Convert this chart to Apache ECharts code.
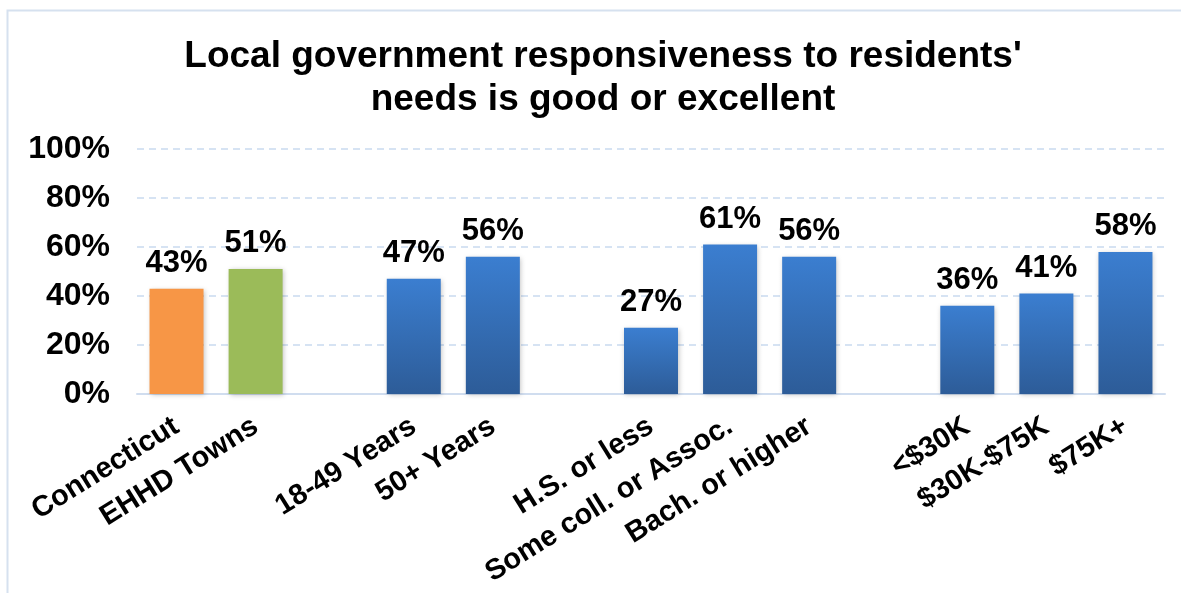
<!DOCTYPE html>
<html>
<head>
<meta charset="utf-8">
<script src="https://cdn.jsdelivr.net/npm/echarts@6/dist/echarts.min.js"></script>
<style>
html,body{margin:0;padding:0;background:#fff;}
#chart{width:1181px;height:593px;}
</style>
</head>
<body>
<div id="chart"></div>
<script>
// Data
var titleText = "Local government responsiveness to residents'\nneeds is good or excellent";
var categories = ['Connecticut', 'EHHD Towns', '', '18-49 Years', '50+ Years', '', 'H.S. or less', 'Some coll. or Assoc.', 'Bach. or higher', '', '<$30K', '$30K-$75K', '$75K+'];
var values = [43, 51, null, 47, 56, null, 27, 61, 56, null, 36, 41, 58];
var yTicks = [0, 20, 40, 60, 80, 100];

var chart = echarts.init(document.getElementById('chart'));
var blueGrad = new echarts.graphic.LinearGradient(0, 0, 0, 1, [
  {offset: 0, color: '#3b7ed0'},
  {offset: 1, color: '#2d5c98'}
]);
function barColor(i) {
  if (i === 0) return '#f79646';
  if (i === 1) return '#9bbb59';
  return blueGrad;
}
var seriesData = values.map(function (v, i) {
  return {value: v === null ? '-' : v, itemStyle: {color: barColor(i)}};
});

var font = 'Liberation Sans, Arial, sans-serif';
chart.setOption({
  animation: false,
  backgroundColor: '#ffffff',
  graphic: [{
    type: 'rect',
    shape: {x: 7.5, y: 10.5, width: 1200, height: 620},
    style: {fill: 'none', stroke: '#d6e1ef', lineWidth: 2},
    z: -1
  }],
  title: {
    text: titleText,
    left: 598,
    textAlign: 'center',
    top: 30,
    textStyle: {fontFamily: font, fontWeight: 'bold', fontSize: 37, lineHeight: 43, color: '#000'}
  },
  grid: {left: 137, right: 16, top: 149, bottom: 199, containLabel: false},
  xAxis: {
    type: 'category',
    data: categories,
    axisLine: {show: true, lineStyle: {color: '#d0ddef', width: 2}},
    axisTick: {show: false},
    axisLabel: {
      interval: 0,
      rotate: 32,
      margin: 30,
      fontFamily: font,
      fontWeight: 'bold',
      fontSize: 29,
      color: '#000'
    }
  },
  yAxis: {
    type: 'value',
    min: 0,
    max: 100,
    interval: 20,
    axisLine: {show: false},
    axisTick: {show: false},
    splitLine: {lineStyle: {color: '#c9daf0', type: [7, 5], width: 1.5}},
    axisLabel: {
      margin: 27,
      fontFamily: font,
      fontWeight: 'bold',
      fontSize: 32,
      color: '#000',
      formatter: function (v) { return yTicks.indexOf(v) >= 0 ? v + '%' : ''; }
    }
  },
  series: [{
    type: 'bar',
    data: seriesData,
    barWidth: 54,
    itemStyle: {shadowColor: 'rgba(0,0,0,0.25)', shadowBlur: 5, shadowOffsetX: 1, shadowOffsetY: 1},
    label: {
      show: true,
      position: 'top',
      distance: 10,
      fontFamily: font,
      fontWeight: 'bold',
      fontSize: 31,
      color: '#000',
      formatter: function (p) { return p.value + '%'; }
    }
  }]
});
</script>
</body>
</html>
